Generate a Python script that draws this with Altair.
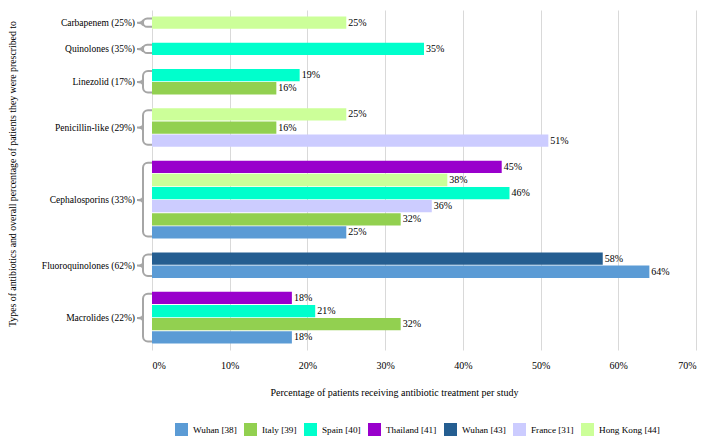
import altair as alt
import pandas as pd

categories = [
    "Carbapenem (25%)",
    "Quinolones (35%)",
    "Linezolid (17%)",
    "Penicillin-like (29%)",
    "Cephalosporins (33%)",
    "Fluoroquinolones (62%)",
    "Macrolides (22%)",
]
series = ["Wuhan [38]", "Italy [39]", "Spain [40]", "Thailand [41]",
          "Wuhan [43]", "France [31]", "Hong Kong [44]"]
colors = ["#5B9BD5", "#92D050", "#00FFCC", "#9900CC", "#255E91", "#CCCCFF", "#CCFF99"]

group_series = [
    ["Hong Kong [44]"],
    ["Spain [40]"],
    ["Spain [40]", "Italy [39]"],
    ["Hong Kong [44]", "Italy [39]", "France [31]"],
    ["Thailand [41]", "Hong Kong [44]", "Spain [40]", "France [31]", "Italy [39]", "Wuhan [38]"],
    ["Wuhan [43]", "Wuhan [38]"],
    ["Thailand [41]", "Spain [40]", "Italy [39]", "Wuhan [38]"],
]
group_values = [
    [25],
    [35],
    [19, 16],
    [25, 16, 51],
    [45, 38, 46, 36, 32, 25],
    [58, 64],
    [18, 21, 32, 18],
]
x_ticks = [0, 10, 20, 30, 40, 50, 60, 70]
x_title = "Percentage of patients receiving antibiotic treatment per study"
y_title = "Types of antibiotics and overall percentage of patients they were prescribed to"

FONT = "Liberation Serif"
GRAY = "#A6A6A6"
W, H = 544, 340

bars = []
domain = []
braces = []
for gi, (cat, ss, vs) in enumerate(zip(categories, group_series, group_values)):
    if gi > 0:
        domain.append(f"gap{gi}")
    keys = []
    for s, v in zip(ss, vs):
        k = f"{cat}|{s}"
        keys.append(k)
        domain.append(k)
        bars.append({"row": k, "series": s, "value": v, "label": f"{v}%"})
    n = len(keys)
    braces.append({"cat": cat, "top": keys[0], "bot": keys[-1],
                   "mid": keys[n // 2], "even": int(n % 2 == 0)})

bar_df = pd.DataFrame(bars)
brace_df = pd.DataFrame(braces)
title_df = pd.DataFrame({"t": [y_title]})

yscale = alt.Scale(domain=domain, paddingInner=0.06, paddingOuter=0.5)
xscale = alt.Scale(domain=[0, 70])

bar = alt.Chart(bar_df).mark_bar().encode(
    x=alt.X("value:Q", scale=xscale,
            axis=alt.Axis(values=x_ticks, labelExpr="datum.value + '%'",
                          title=x_title, grid=True, gridColor="#D9D9D9",
                          domain=False, ticks=False, labelPadding=10, titlePadding=17,
                          titleX=242, titleAnchor="start", titleAlign="center",
                          labelFont=FONT, titleFont=FONT, labelFontSize=10,
                          titleFontSize=10, labelColor="#000", titleColor="#000",
                          titleFontWeight="normal")),
    y=alt.Y("row:N", scale=yscale, axis=None),
    color=alt.Color("series:N", scale=alt.Scale(domain=series, range=colors),
                    legend=alt.Legend(orient="none", legendX=23, legendY=413,
                                      direction="horizontal", columns=7, title=None,
                                      symbolType="square", symbolSize=169,
                                      symbolStrokeWidth=0, labelFont=FONT,
                                      labelFontSize=9.2, labelColor="#000",
                                      labelOffset=5, columnPadding=7)),
)

labels = alt.Chart(bar_df).mark_text(
    align="left", baseline="middle", dx=2, font=FONT, fontSize=10, color="#000"
).encode(
    x=alt.X("value:Q", scale=xscale),
    y=alt.Y("row:N", scale=yscale, axis=None),
    text="label:N",
)

brace_rect = alt.Chart(brace_df).mark_rect(
    fillOpacity=0, stroke=GRAY, strokeWidth=2, cornerRadius=5, yOffset=2, y2Offset=-2
).encode(
    x=alt.value(-9), x2=alt.value(5),
    y=alt.Y("top:N", scale=yscale, axis=None, bandPosition=0),
    y2=alt.Y2("bot", bandPosition=1),
)

cover = alt.Chart(brace_df).mark_rect(color="white").encode(
    x=alt.value(0), x2=alt.value(7),
    y=alt.Y("top:N", scale=yscale, axis=None, bandPosition=0),
    y2=alt.Y2("bot", bandPosition=1),
)

notch_shape = "M 1 -1 C 1 -0.2 0 0 -1 0 C 0 0 1 0.2 1 1"


def notch(even, bp):
    return alt.Chart(brace_df).transform_filter(f"datum.even == {even}").mark_point(
        shape=notch_shape, filled=False, stroke=GRAY, strokeWidth=2, size=36, opacity=1
    ).encode(
        x=alt.value(-12),
        y=alt.Y("mid:N", scale=yscale, axis=None, bandPosition=bp),
    )


def group_label(even, bp):
    return alt.Chart(brace_df).transform_filter(f"datum.even == {even}").mark_text(
        align="right", baseline="middle", font=FONT, fontSize=9.5, color="#000"
    ).encode(
        x=alt.value(-17),
        y=alt.Y("mid:N", scale=yscale, axis=None, bandPosition=bp),
        text="cat:N",
    )


ytitle = alt.Chart(title_df).mark_text(
    angle=270, align="center", baseline="middle", font=FONT, fontSize=9.8, color="#000"
).encode(x=alt.value(-139), y=alt.value(164), text="t:N")

chart = alt.layer(
    brace_rect, cover, bar, labels,
    notch(0, 0.5), notch(1, 0), group_label(0, 0.5), group_label(1, 0), ytitle
).properties(
    width=W, height=H,
    padding={"top": 2, "bottom": 0, "left": 0, "right": 2},
).configure_view(stroke=None)

chart.save("out.html", embed_options={"renderer": "svg", "actions": False})
